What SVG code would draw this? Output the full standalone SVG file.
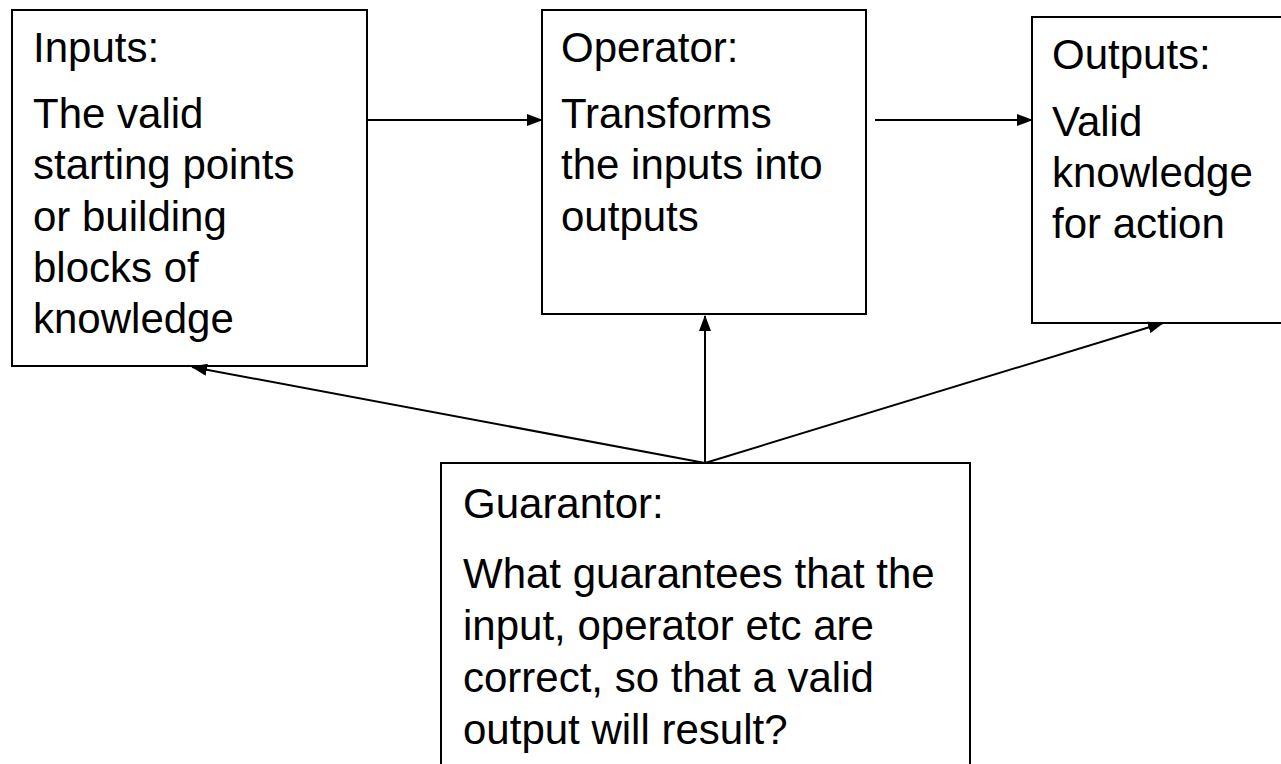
<svg xmlns="http://www.w3.org/2000/svg" width="1281" height="764" viewBox="0 0 1281 764">
<style>
.box{fill:#fff;stroke:#000;stroke-width:2}
.t{font-family:"Liberation Sans",Arial,sans-serif;font-size:42px;fill:#000}
.c{stroke:#000;stroke-width:2;fill:none;marker-end:url(#ah)}
</style>
<defs>
<marker id="ah" markerUnits="userSpaceOnUse" markerWidth="16" markerHeight="12" refX="15" refY="6" orient="auto">
<path d="M0,0 L16,6 L0,12 z" fill="#000"/>
</marker>
</defs>
<rect width="1281" height="764" fill="#fff"/>
<g id="inputs">
<rect class="box" x="12" y="10" width="355" height="356"/>
<text class="t" x="33" y="62">Inputs:</text>
<text class="t" x="33" y="128">The valid</text>
<text class="t" x="33" y="179">starting points</text>
<text class="t" x="33" y="231">or building</text>
<text class="t" x="33" y="282">blocks of</text>
<text class="t" x="33" y="333">knowledge</text>
</g>
<g id="operator">
<rect class="box" x="542" y="10" width="324" height="304"/>
<text class="t" x="561" y="62">Operator:</text>
<text class="t" x="561" y="128">Transforms</text>
<text class="t" x="561" y="179">the inputs into</text>
<text class="t" x="561" y="231">outputs</text>
</g>
<g id="outputs">
<rect class="box" x="1032" y="17" width="260" height="306"/>
<text class="t" x="1052" y="69">Outputs:</text>
<text class="t" x="1052" y="136">Valid</text>
<text class="t" x="1052" y="187">knowledge</text>
<text class="t" x="1052" y="238">for action</text>
</g>
<g id="guarantor">
<rect class="box" x="441" y="463" width="529" height="320"/>
<text class="t" x="463" y="518">Guarantor:</text>
<text class="t" x="463" y="588">What guarantees that the</text>
<text class="t" x="463" y="640">input, operator etc are</text>
<text class="t" x="463" y="692">correct, so that a valid</text>
<text class="t" x="463" y="744">output will result?</text>
</g>
<g id="connectors">
<line class="c" x1="367" y1="120" x2="542" y2="120"/>
<line class="c" x1="875" y1="120" x2="1032" y2="120"/>
<line class="c" x1="705" y1="463" x2="192" y2="367"/>
<line class="c" x1="705" y1="463" x2="705" y2="316"/>
<line class="c" x1="705" y1="463" x2="1163" y2="323"/>
</g>
</svg>
